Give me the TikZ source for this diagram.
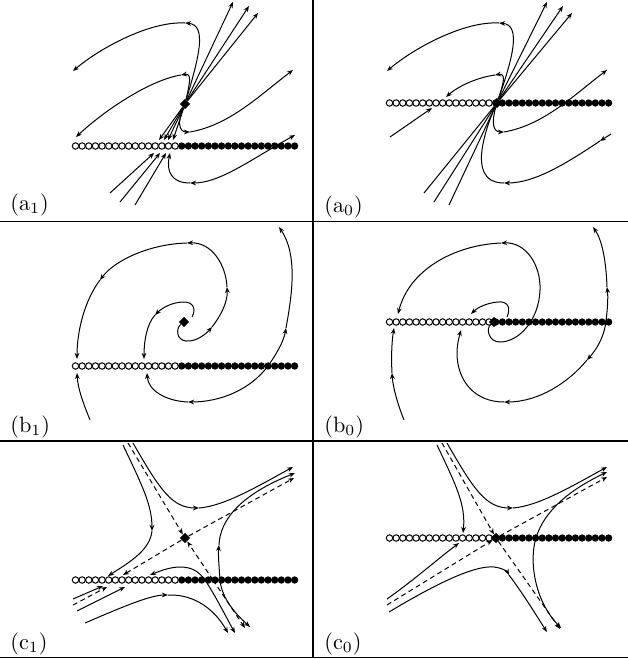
\documentclass[tikz,border=0pt]{standalone}
\usepackage{tikz}
\usetikzlibrary{arrows.meta, shapes.geometric}
\tikzset{
  % Trajectories and separatrices
  traj/.style={line width=0.45pt, draw=black},
  separatrix/.style={traj, dash pattern=on 2.2pt off 1.6pt},
  % Equilibrium point
  eqpt/.style={diamond, fill=black, inner sep=0pt, minimum size=4.8pt},
  % Switching line: open and filled dots
  switchline/.pic={
    \foreach \k in {0,...,15}
      \draw[line width=0.45pt] (75.5+6.64*\k,0) circle[radius=1.45pt];
    \foreach \k in {16,...,33}
      \fill (75.5+6.64*\k,0) circle[radius=1.65pt];
  },
  % Panel labels
  panellabel/.style={anchor=west, inner sep=0pt},
  % Frame lines
  divider/.style={line width=0.75pt},
}

\begin{document}
\begin{tikzpicture}[x=0.45pt, y=-0.45pt, >={Stealth[length=2.7pt,width=2.1pt]}]
  \useasboundingbox (0,0) rectangle (628,659);

  % Frame
  \draw[divider] (313,0) -- (313,657.5);
  \draw[divider] (0,221.5) -- (628,221.5);
  \draw[divider] (0,441) -- (628,441);
  \draw[divider] (0,657.5) -- (628,657.5);

  % (a1) unstable node above the line
  \begin{scope}[shift={(0,0)}]
    \pic at (0,146) {switchline};
    \node[eqpt] (eqa1) at (185,104) {};
    \draw[traj,->] (eqa1) .. controls (198,60) and (208,25) .. (185,23);
    \draw[traj,->] (185,23) .. controls (150,21) and (100,48) .. (73,71);
    \draw[traj,->] (eqa1) .. controls (190,82) and (192,73) .. (181,75);
    \draw[traj,->] (181,75) .. controls (150,80) and (105,110) .. (76,137);
    \foreach \ex/\ey in {233/2, 249/6, 258/13}
      \draw[traj,->] (eqa1) -- (\ex,\ey);
    \foreach \ex in {159,164,168,173}
      \draw[traj,->] (eqa1) -- (\ex,140);
    \draw[traj,->] (110,193) -- (154,153);
    \draw[traj,->] (120,202) -- (160,153);
    \draw[traj,->] (135,205) -- (166,153);
    \draw[traj,<->] (295,135) .. controls (250,160) and (220,183) .. (190,183);
    \draw[traj,->] (190,183) .. controls (172,183) and (166,172) .. (170,153);
    \draw[traj,->] (eqa1) .. controls (178,120) and (178,132) .. (190,132);
    \draw[traj,->] (190,132) .. controls (230,125) and (260,95) .. (293,70);
    \node[panellabel] (la1) at (10,205) {(a$_1$)};
  \end{scope}

  % (a0) unstable node on the line
  \begin{scope}[shift={(314,0)}]
    \pic at (0,103) {switchline};
    \node[eqpt] (eqa0) at (183,103) {};
    \draw[traj,->] (eqa0) .. controls (198,60) and (208,25) .. (185,23);
    \draw[traj,->] (185,23) .. controls (150,21) and (100,48) .. (73,71);
    \draw[traj,->] (eqa0) .. controls (190,82) and (192,73) .. (181,75);
    \draw[traj,->] (181,75) .. controls (160,78) and (142,88) .. (132,97);
    \foreach \ex/\ey in {233/2, 249/6, 258/13}
      \draw[traj,->] (eqa0) -- (\ex,\ey);
    \foreach \ex/\ey in {110/193, 120/202, 135/205}
      \draw[traj] (eqa0) -- (\ex,\ey);
    \draw[traj,->] (76,137) -- (118,108);
    \draw[traj,->] (297,134) -- (286,141);
    \draw[traj,->] (286,141) .. controls (250,165) and (220,183) .. (190,183);
    \draw[traj] (190,183) .. controls (168,183) and (166,165) .. (168,150)
      .. controls (170,135) and (176,118) .. (eqa0);
    \draw[traj,->] (eqa0) .. controls (178,120) and (178,132) .. (190,132);
    \draw[traj,->] (190,132) .. controls (230,125) and (260,95) .. (293,70);
    \node[panellabel] (la0) at (10,207) {(a$_0$)};
  \end{scope}

  % (b1) unstable focus above the line
  \begin{scope}[shift={(0,220)}]
    \pic at (0,146) {switchline};
    \node[eqpt] (eqb1) at (184,102) {};
    \draw[traj,->] (eqb1) .. controls (176,108) and (176,120) .. (186,121)
      .. controls (196,122) and (206,114) .. (212,107);
    \draw[traj,->] (212,107) .. controls (220,97) and (228,82) .. (227,67);
    \draw[traj,->] (227,67) .. controls (226,45) and (212,22) .. (187,23);
    \draw[traj,->] (187,23) .. controls (150,24) and (115,40) .. (100,60);
    \draw[traj,->] (100,60) .. controls (85,80) and (77,110) .. (77,139);
    \draw[traj,->] (192,97) .. controls (196,90) and (194,82) .. (184,82)
      .. controls (172,82) and (162,88) .. (155,95);
    \draw[traj,->] (155,95) .. controls (147,104) and (144,120) .. (144,139);
    \draw[traj,->] (268,146) .. controls (250,170) and (220,182) .. (188,182);
    \draw[traj,->] (188,182) .. controls (165,181) and (148,170) .. (147,153);
    \draw[traj,->] (268,146) .. controls (278,132) and (284,120) .. (286,108);
    \draw[traj,->] (286,108) .. controls (292,75) and (298,35) .. (279,7);
    \draw[traj,->] (90,200) .. controls (84,185) and (78,170) .. (77,153);
    \node[panellabel] (lb1) at (10,207) {(b$_1$)};
  \end{scope}

  % (b0) unstable focus on the line
  \begin{scope}[shift={(314,220)}]
    \pic at (0,102) {switchline};
    \node[eqpt] (eqb0) at (180,102) {};
    \draw[traj,->] (eqb0) .. controls (172,108) and (174,122) .. (186,122)
      .. controls (205,122) and (225,100) .. (226,70)
      .. controls (227,45) and (212,22) .. (187,23);
    \draw[traj,->] (187,23) .. controls (140,25) and (95,50) .. (84,94);
    \draw[traj,->] (193,97) .. controls (197,88) and (194,81) .. (184,82)
      .. controls (172,83) and (163,88) .. (157,94);
    \draw[traj,->] (292,101) .. controls (294,85) and (294,75) .. (293,67);
    \draw[traj,->] (293,67) .. controls (292,40) and (288,20) .. (279,7);
    \draw[traj,->] (292,101) .. controls (290,118) and (282,130) .. (273,140);
    \draw[traj,->] (273,140) .. controls (255,162) and (225,182) .. (190,182);
    \draw[traj,->] (190,182) .. controls (160,182) and (143,160) .. (143,133)
      .. controls (143,125) and (145,117) .. (147,110);
    \draw[traj,->] (90,200) .. controls (84,185) and (79,168) .. (78,153);
    \draw[traj,->] (78,153) .. controls (77,135) and (78,120) .. (80,108);
    \node[panellabel] (lb0) at (10,207) {(b$_0$)};
  \end{scope}

  % (c1) saddle above the line
  \begin{scope}[shift={(0,440)}]
    \pic at (0,140) {switchline};
    \node[eqpt] (eqc1) at (185,98) {};
    \coordinate (cross) at (213,140);
    \draw[separatrix,->] (128,3) -- (eqc1);
    \draw[separatrix,->] (cross) -- (eqc1);
    \draw[separatrix,->] (cross) -- (245,188);
    \draw[separatrix,->] (eqc1) -- (294,38);
    \draw[separatrix,->] (eqc1) -- (123,135);
    \draw[separatrix,->] (73,165) -- (107,147);
    \draw[traj,->] (133,3) .. controls (160,50) and (172,68) .. (199,68);
    \draw[traj,->] (199,68) .. controls (225,66) and (260,45) .. (293,27);
    \draw[traj,->] (123,5) .. controls (142,45) and (152,65) .. (152,91);
    \draw[traj,->] (152,91) .. controls (150,110) and (130,122) .. (108,136);
    \draw[traj,->] (220,140) .. controls (219,125) and (218,115) .. (219,105);
    \draw[traj,->] (219,105) .. controls (220,80) and (240,55) .. (295,33);
    \draw[traj,->] (220,140) .. controls (222,160) and (237,175) .. (250,187);
    \draw[traj,->] (85,183) .. controls (120,168) and (150,155) .. (168,155);
    \draw[traj,->] (168,155) .. controls (195,154) and (215,170) .. (228,193);
    \draw[traj,->] (205,140) .. controls (198,130) and (190,127) .. (180,127)
      .. controls (170,127) and (160,131) .. (150,135);
    \draw[traj,->] (205,140) .. controls (215,155) and (225,175) .. (235,193);
    \draw[traj,->] (73,159) -- (103,146);
    \draw[traj,->] (77,171) -- (125,147);
    \node[panellabel] (lc1) at (10,204) {(c$_1$)};
  \end{scope}

  % (c0) saddle on the line
  \begin{scope}[shift={(314,440)}]
    \pic at (0,98) {switchline};
    \node[eqpt] (eqc0) at (182,98) {};
    \draw[separatrix,->] (128,3) -- (eqc0);
    \draw[separatrix,->] (eqc0) -- (246,189);
    \draw[separatrix,->] (eqc0) -- (293,37);
    \draw[separatrix,->] (73,165) -- (eqc0);
    \draw[traj,->] (133,3) .. controls (160,50) and (172,68) .. (199,68);
    \draw[traj,->] (199,68) .. controls (225,66) and (260,45) .. (293,27);
    \draw[traj,->] (123,5) .. controls (142,45) and (152,65) .. (149,93);
    \draw[traj,->] (222,98) .. controls (228,78) and (245,55) .. (293,32);
    \draw[traj,->] (222,98) .. controls (215,120) and (220,160) .. (247,188);
    \draw[traj,->] (75,172) .. controls (120,145) and (160,125) .. (180,127)
      .. controls (188,128) and (193,131) .. (195,135);
    \draw[traj,->] (195,135) .. controls (210,155) and (222,175) .. (233,192);
    \draw[traj,->] (73,159) .. controls (100,140) and (125,118) .. (145,103);
    \node[panellabel] (lc0) at (10,204) {(c$_0$)};
  \end{scope}
\end{tikzpicture}
\end{document}
